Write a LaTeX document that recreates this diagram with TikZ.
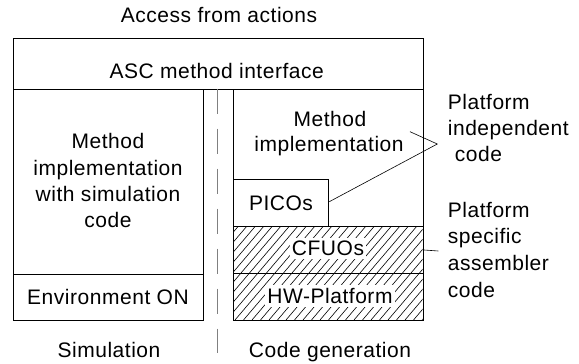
\documentclass[tikz,border=0pt]{standalone}
\usepackage{fontspec}
\setmainfont{Liberation Sans}[LetterSpace=2.5]
\begin{document}
\begin{tikzpicture}[x=1pt,y=-1pt,line width=0.8pt,
  lbl/.style={font=\fontsize{21}{26}\selectfont,inner sep=0pt,anchor=base},
  sidelbl/.style={font=\fontsize{21}{26}\selectfont,inner sep=0pt,anchor=base west},
  cell/.style={draw,inner sep=0pt,anchor=north west},
  whitebg/.style={fill=white,inner xsep=2pt,inner ysep=3pt},
  hatchline/.style={line width=0.6pt},
  divider/.style={draw=black!50,line width=1.3pt,dash pattern=on 25pt off 15pt},
  pointer/.style={line width=0.6pt}]
\useasboundingbox (0,0) rectangle (579,364);

% frame cells
\node[cell,minimum width=409.5pt,minimum height=50.5pt] (iface) at (13,38) {};
\node[cell,minimum width=189.5pt,minimum height=185pt] (simimpl) at (13,88.5) {};
\node[cell,minimum width=189.5pt,minimum height=46.5pt] (env) at (13,273.5) {};
\node[cell,minimum width=189.2pt,minimum height=137.5pt] (genimpl) at (233.3,88.5) {};
\node[cell,minimum width=95pt,minimum height=47pt] (picos) at (233.3,179) {};

% hatched platform cells
\begin{scope}
  \clip (233.3,226) rectangle (422.5,320);
  \foreach \s in {150,158.5,...,430}
    \draw[hatchline] (\s,320) -- ++(80,-94);
\end{scope}
\node[cell,minimum width=189.2pt,minimum height=47.3pt] (cfuo) at (233.3,226) {};
\node[cell,minimum width=189.2pt,minimum height=46.7pt] (hw) at (233.3,273.3) {};

% dashed separator
\coordinate (divtop) at (217.7,88.5);
\coordinate (divbot) at (217.7,353);
\draw[divider] (divtop) -- (divbot);

% texts
\node[lbl] (access) at (219,23) {Access from actions};
\node[lbl] (ifacetxt) at (216.7,78) {ASC method interface};
\node[lbl] (simtxt) at (108,148.3) {Method};
\node[lbl] (simtxt2) at (108,175) {implementation};
\node[lbl] (simtxt3) at (108,201) {with simulation};
\node[lbl] (simtxt4) at (108,227) {code};
\node[lbl] (envtxt) at (108,304.3) {Environment ON};
\node[lbl] (gentxt) at (330,126.7) {Method};
\node[lbl] (gentxt2) at (329,151.7) {implementation};
\node[lbl] (picotxt) at (281,210) {PICOs};
\node[lbl,whitebg] (cfuotxt) at (328,255.7) {CFUOs};
\node[lbl,whitebg] (hwtxt) at (330,303.3) {HW-Platform};
\node[lbl] (simlbl) at (109,357) {Simulation};
\node[lbl] (genlbl) at (330,357) {Code generation};

\node[sidelbl] (pic1) at (447.5,109.3) {Platform};
\node[sidelbl] (pic2) at (447.5,135) {independent};
\node[sidelbl] (pic3) at (454.5,161.7) {code};
\node[sidelbl] (psa1) at (447.5,217) {Platform};
\node[sidelbl] (psa2) at (447.5,243) {specific};
\node[sidelbl] (psa3) at (447.5,270) {assembler};
\node[sidelbl] (psa4) at (447.5,297) {code};

% pointers to the side notes
\coordinate (pivertex) at (437.3,144);
\coordinate (implend) at (410,131.7);
\coordinate (picoend) at (329.3,201.7);
\coordinate (psastart) at (424,250);
\coordinate (psaend) at (438.3,251);
\draw[pointer] (implend) -- (pivertex) -- (picoend);
\draw[pointer] (psastart) -- (psaend);
\end{tikzpicture}
\end{document}
